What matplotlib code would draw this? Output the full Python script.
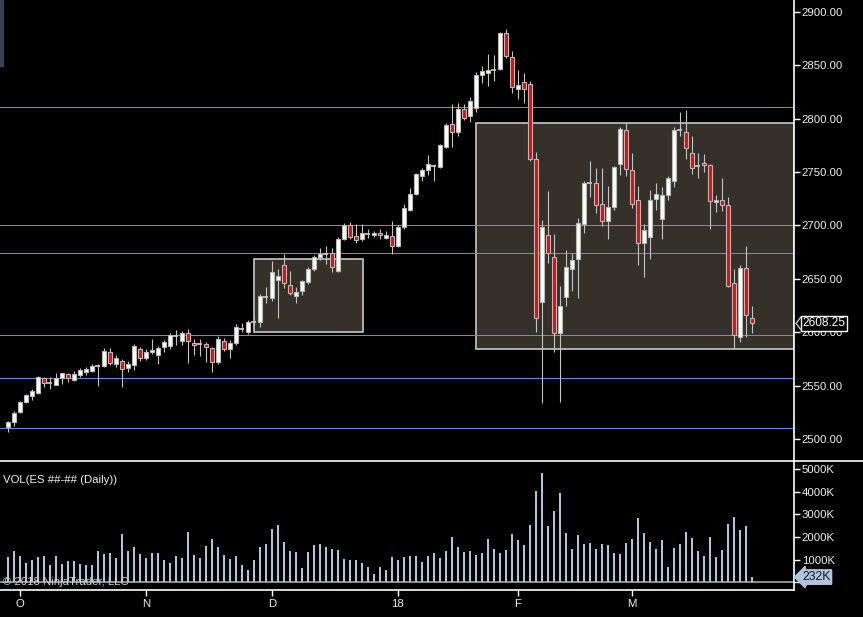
import numpy as np
import matplotlib.pyplot as plt
from matplotlib.patches import Rectangle
from matplotlib.lines import Line2D
import matplotlib.transforms as mtransforms

plt.rcParams['font.family'] = ['Liberation Sans', 'DejaVu Sans']

# daily ES bars, Oct 2017 - Mar 2018
opens = [2511, 2515.5, 2525.5, 2535, 2540.5, 2543.5, 2556.75, 2552.25, 2551, 2556.75,
         2560.5, 2555.25, 2560, 2562.75, 2564, 2568.75, 2568.75, 2581.25, 2570.25, 2573,
         2566.75, 2569.75, 2584.25, 2576.25, 2581.25, 2579, 2586, 2587.5, 2596.5, 2592,
         2599, 2589.5, 2589, 2588.75, 2585, 2572.5, 2592, 2584, 2589.5, 2603.25,
         2600.5, 2610, 2610, 2633, 2632.5, 2648.5, 2662.75, 2644, 2634.25, 2638.25,
         2647.5, 2659.25, 2670.75, 2673.5, 2674, 2657.75, 2687.5, 2700, 2689.75, 2687,
         2692, 2691.5, 2692.5, 2688.5, 2689.75, 2680.5, 2699, 2714.5, 2729.75, 2746.75,
         2751.75, 2756, 2755, 2773.75, 2794.75, 2788, 2808.75, 2802.5, 2809.75, 2840.75,
         2842.5, 2845.75, 2847, 2880, 2858, 2828.25, 2834.5, 2832.25, 2762, 2628.5,
         2690.75, 2670.5, 2599, 2633.25, 2659, 2668.25, 2701, 2740, 2739.5, 2719.75,
         2704, 2717.5, 2757.25, 2789, 2751.5, 2723.75, 2684, 2689, 2724.5, 2705.75,
         2729, 2742, 2789.25, 2787.25, 2767.5, 2755.75, 2758.25, 2756.5, 2721.75, 2724,
         2719, 2645.75, 2595.25, 2660, 2613]
highs = [2517, 2526.25, 2535.5, 2542.25, 2547, 2559, 2558.5, 2558.5, 2561.5, 2561.5,
         2561.5, 2563.75, 2566.25, 2567.25, 2570, 2570.25, 2585, 2585, 2578.75, 2575.25,
         2573, 2589, 2586.5, 2584, 2593.75, 2587, 2592.75, 2599, 2602, 2601.25,
         2602.75, 2593.75, 2593.5, 2591.25, 2586.5, 2596.5, 2594.25, 2592.75, 2607.75, 2608.25,
         2611.5, 2613, 2635.75, 2642, 2666.75, 2659, 2673, 2657.25, 2642.75, 2649,
         2660.75, 2672.25, 2678.5, 2680.75, 2678.5, 2689, 2702.5, 2703, 2701.5, 2701.5,
         2696.5, 2695, 2696.5, 2694.5, 2704, 2700.5, 2720, 2734.75, 2748.75, 2753.5,
         2766, 2757.25, 2776, 2795.75, 2813.75, 2814.5, 2813.75, 2820.75, 2844, 2849.75,
         2860.5, 2859.75, 2881.25, 2883.75, 2863, 2845.75, 2842.5, 2835.75, 2768.5, 2705,
         2732.25, 2692, 2643.25, 2677, 2674, 2707, 2742, 2760.5, 2753.75, 2753.75,
         2737, 2756, 2792, 2795.75, 2768.25, 2737, 2701.5, 2733.25, 2739.5, 2735.75,
         2746.5, 2792, 2806.5, 2808.25, 2784, 2767.5, 2767, 2757.25, 2729, 2744.25,
         2726.5, 2659, 2663, 2680.75, 2624.5]
lows = [2507, 2512.5, 2524.25, 2533.5, 2536.5, 2542.25, 2549, 2547, 2550.5, 2551.5,
        2553.75, 2554, 2557.75, 2560, 2563, 2549.75, 2567.75, 2569.25, 2567.75, 2549,
        2563, 2564.75, 2573.5, 2574, 2579.25, 2570, 2581.25, 2584, 2588, 2587.75,
        2571, 2579, 2578, 2572.5, 2563, 2570.25, 2582.5, 2575.5, 2588, 2600.5,
        2598.25, 2606.75, 2605.25, 2627, 2629.5, 2613, 2641.75, 2635, 2627.75, 2635,
        2645.25, 2657.75, 2667.75, 2664, 2656.75, 2656.75, 2686.5, 2687, 2684, 2685.75,
        2688, 2689, 2687, 2687.5, 2673, 2679.5, 2696.5, 2713.5, 2729, 2742,
        2747.25, 2742, 2753.5, 2772.25, 2773.75, 2784, 2798.75, 2797.25, 2806.5, 2833.75,
        2831, 2835.75, 2845.75, 2856.5, 2823.75, 2818.25, 2814.5, 2760.75, 2600.5, 2534,
        2665, 2581.75, 2535, 2624.5, 2639, 2632.25, 2693.25, 2727, 2711.5, 2699.5,
        2687, 2714.5, 2747.25, 2746.25, 2716, 2663, 2652, 2669, 2714.5, 2687,
        2724, 2735.75, 2784.25, 2762.5, 2748.25, 2744.75, 2750.5, 2697, 2713, 2713.25,
        2642, 2585.25, 2591.25, 2596, 2599.5]
closes = [2516, 2524, 2534.5, 2541, 2545, 2557.75, 2552.75, 2552.25, 2556.75, 2561.5,
          2557.5, 2561, 2564.75, 2565.5, 2568, 2568.75, 2582, 2571.5, 2576, 2566,
          2570.25, 2587, 2576.25, 2581.5, 2583.5, 2585.25, 2591, 2597, 2596.5, 2599,
          2592, 2587.75, 2589, 2586, 2572.5, 2593.75, 2584, 2589.5, 2604.5, 2603.25,
          2609.5, 2610, 2634, 2633, 2656, 2652.5, 2646.5, 2636.5, 2637.5, 2648,
          2659, 2670.25, 2673.5, 2673.5, 2661.5, 2687, 2700, 2689, 2686.75, 2692.5,
          2692, 2693.25, 2690.75, 2691, 2681, 2698.5, 2716, 2729.5, 2748, 2751.75,
          2757.25, 2756, 2775, 2793.75, 2788, 2808.75, 2801, 2816.25, 2840.75, 2844.75,
          2846, 2845.75, 2880, 2858.75, 2829.5, 2831.25, 2827.5, 2762, 2613, 2699,
          2674, 2599, 2624.25, 2660.75, 2667.5, 2702, 2739.5, 2740, 2719, 2704,
          2717, 2754.5, 2790, 2752.5, 2719.75, 2683.25, 2695.5, 2724, 2729.25, 2728.25,
          2744.25, 2789.25, 2789.25, 2773, 2754.25, 2755.75, 2756.5, 2722.75, 2724, 2719,
          2643.5, 2597.75, 2660, 2616, 2608.25]
# volume in thousands of contracts
volume_k = [1121, 1386, 1165, 855, 988, 1121, 1165, 767, 1165, 811,
            944, 944, 811, 767, 767, 1386, 1254, 1298, 1077, 2139,
            1386, 1563, 1254, 1077, 1298, 1298, 988, 855, 1165, 1077,
            2227, 1209, 1077, 1608, 1917, 1563, 1209, 1032, 1165, 767,
            546, 988, 1563, 1696, 2360, 2537, 1785, 1386, 1342, 634,
            1342, 1652, 1696, 1563, 1475, 1431, 1032, 988, 988, 855,
            678, 369, 678, 546, 1121, 988, 1121, 1165, 1165, 897,
            1162, 1294, 1074, 1382, 2000, 1559, 1338, 1382, 1206, 1294,
            1912, 1471, 1294, 1426, 2132, 1868, 1647, 2529, 4029, 4824,
            2485, 3147, 3941, 2176, 1471, 2088, 1691, 1735, 1471, 1691,
            1647, 1294, 1250, 1735, 1912, 2838, 2176, 1779, 1471, 1868,
            676, 1515, 1691, 2221, 1956, 1382, 1162, 2000, 1118, 1426,
            2574, 2882, 2309, 2485, 232]

month_pos = [2, 23, 44, 65, 85, 104]
month_labels = ['O', 'N', 'D', '18', 'F', 'M']
price_ticks = [2500, 2550, 2600, 2650, 2700, 2750, 2800, 2850, 2900]
vol_ticks = [0, 1000, 2000, 3000, 4000, 5000]

# drawn horizontal levels and the two shaded zones (x0, x1 in bar index, price lo, hi)
levels = [2810.75, 2700, 2674, 2597.25, 2556.75, 2510]
zones = [(41.1, 59.3, 2600, 2668.25), (78.1, 131.0, 2584, 2795.75)]

W, H = 863, 617
BG = 'black'
LEVEL_C = '#5f8fee'
TXT = '#f0f0f0'

def fx(px):
    return px / W

def fy(py):
    return 1 - py / H

fig = plt.figure(figsize=(W / 100, H / 100), dpi=100, facecolor=BG)
ax = fig.add_axes([0, fy(461), fx(794), 461 / H], facecolor=BG)
vax = fig.add_axes([0, fy(590), fx(794), (590 - 462) / H], facecolor=BG, sharex=ax)

o = np.array(opens); h = np.array(highs); l = np.array(lows); c = np.array(closes)
idx = np.arange(len(o))
up = c > o
dn = c < o
flat = c == o

for x0, x1, lo, hi in zones:
    ax.add_patch(Rectangle((x0, lo), x1 - x0, hi - lo, facecolor='#35302a',
                           edgecolor='#c8c8c8', lw=1.2, zorder=1))
for lv in levels:
    ax.axhline(lv, color=LEVEL_C, lw=0.5, antialiased=False, zorder=2)

ax.vlines(idx, l, h, color='#c4c4c4', lw=0.8, zorder=3)
ax.bar(idx[up], (c - o)[up], bottom=o[up], width=0.7, color='#fffff0',
       edgecolor='#b8b8b8', lw=0.8, zorder=4)
ax.bar(idx[dn], (o - c)[dn], bottom=c[dn], width=0.7, color='#ff0000',
       edgecolor='#b8b8b8', lw=0.8, zorder=4)
ax.hlines(o[flat], idx[flat] - 0.38, idx[flat] + 0.38, color='#c4c4c4', lw=1.3, zorder=4)

ax.set_xlim(-1.283, 131.05)
ax.set_ylim(2479.4, 2911.2)
ax.yaxis.tick_right()
ax.set_yticks(price_ticks)
ax.set_yticklabels(['%.2f' % p for p in price_ticks])
ax.tick_params(axis='y', colors='white', labelcolor=TXT, length=4.3, width=1,
               labelsize=8.2, pad=1.2)
ax.tick_params(axis='x', bottom=False, labelbottom=False)
for s in ['left', 'top', 'bottom']:
    ax.spines[s].set_visible(False)
ax.spines['right'].set_color('white')
ax.spines['right'].set_linewidth(1.2)

# last price marker
last = c[-1]
trans = mtransforms.blended_transform_factory(ax.transAxes, ax.transData)
ax.text(1.0 + 8.5 / 794, last, '%.2f' % last, transform=trans, color='white',
        fontsize=8.6, va='center', ha='left', zorder=10, clip_on=False,
        bbox=dict(boxstyle='square,pad=0.15', fc='black', ec='white', lw=1))
ax.add_line(Line2D([1.0 + 7 / 794, 1.0 + 2 / 794, 1.0 + 7 / 794],
                   [last + 6, last, last - 6], transform=trans, color='#c8c8c8',
                   lw=1, clip_on=False, zorder=10))

# volume panel
vax.bar(idx, volume_k, width=0.36, color='#b0c4de', zorder=3)
vax.axhline(0, color='#a8a8a8', lw=1.2, zorder=2)
vax.set_ylim(-340, 5309)
vax.yaxis.tick_right()
vax.set_yticks(vol_ticks)
vax.set_yticklabels(['0' if v == 0 else '%dK' % v for v in vol_ticks])
vax.tick_params(axis='y', colors='white', labelcolor=TXT, length=4.3, width=1,
                labelsize=8.2, pad=1.2)
vax.set_xticks(month_pos)
vax.set_xticklabels(month_labels)
vax.tick_params(axis='x', colors='white', labelcolor=TXT, length=4.3, width=1,
                labelsize=8.2, pad=2)
for s in ['left', 'top']:
    vax.spines[s].set_visible(False)
for s in ['right', 'bottom']:
    vax.spines[s].set_color('white')
    vax.spines[s].set_linewidth(1.2)

vtrans = mtransforms.blended_transform_factory(vax.transAxes, vax.transData)
vlast = volume_k[-1]
vax.text(1.0 + 8 / 794, vlast, '%dK' % vlast, transform=vtrans, color='#101828',
         fontsize=8.8, va='center', ha='left', zorder=10, clip_on=False,
         bbox=dict(boxstyle='larrow,pad=0.1', fc='#b0c4de', ec='#b0c4de', lw=1))

vax.text(3 / 794, 0.86, 'VOL(ES ##-## (Daily))', transform=vax.transAxes,
         color=TXT, fontsize=8.2, va='center', ha='left')
vax.text(3 / 794, 0.0, '\u00a9 2018 NinjaTrader, LLC', transform=vtrans,
         color='#d0d0d0', fontsize=8.2, va='center', ha='left', zorder=6)

# panel separator and scroll marker
fig.add_artist(Line2D([0, 1], [fy(461), fy(461)], color='white', lw=1.2))
fig.add_artist(Rectangle((0, fy(66)), fx(3), 66 / H, color='#3c4050'))

fig.savefig('out.png', dpi=100, facecolor=BG)
